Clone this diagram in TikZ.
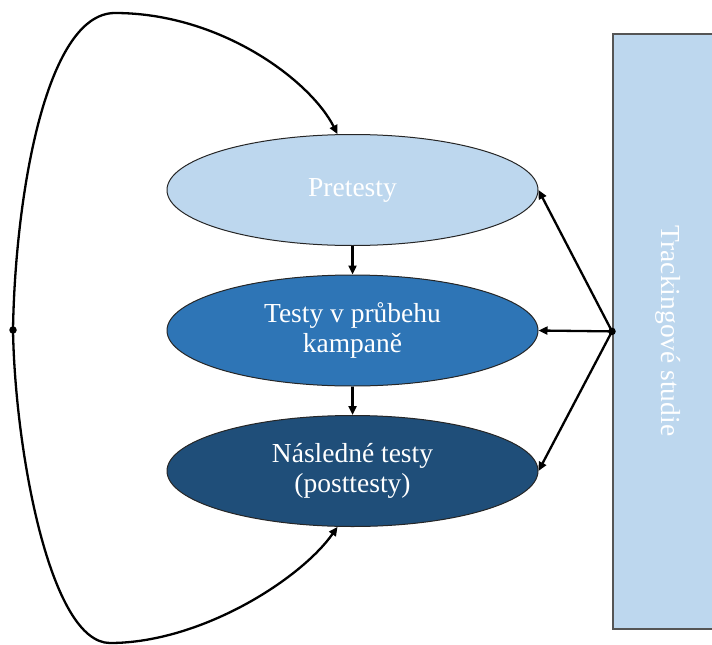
\documentclass[tikz,border=0pt]{standalone}
\usepackage{fontspec}
\setmainfont{Liberation Serif}
\usetikzlibrary{shapes.geometric,arrows.meta}
\definecolor{lightb}{HTML}{BDD7EE}
\definecolor{midb}{HTML}{2E75B6}
\definecolor{darkb}{HTML}{1F4E79}
\definecolor{edgegray}{HTML}{555555}
\tikzset{
  stage/.style={ellipse, draw=black!85, line width=1pt, minimum width=371pt, minimum height=111pt, inner sep=0pt, text=white, align=center, font=\fontsize{27.5}{30}\selectfont},
  conn/.style={line width=2.3pt, -{Triangle[length=9pt,width=8pt]}},
  dotmark/.style={circle, fill=black, inner sep=0pt, minimum size=7.5pt}
}
\begin{document}
\begin{tikzpicture}[x=1pt,y=-1pt]
\useasboundingbox (0,0) rectangle (712,645);
\begin{scope}
\clip (0,0) rectangle (712,645);
\node[draw=edgegray, line width=1.8pt, fill=lightb, minimum width=130pt, minimum height=595pt, anchor=north west, inner sep=0pt] (track) at (612,33) {};
\end{scope}
\node[text=white, rotate=-90, font=\fontsize{27.5}{30}\selectfont] (tracklbl) at (668,331) {Trackingové studie};
\node[stage, fill=lightb] (pre) at (352.5,190) {\raisebox{-3pt}{Pretesty}};
\node[stage, fill=midb] (mid) at (352.5,330.5) {Testy v průbehu\\kampaně};
\node[stage, fill=darkb] (post) at (352.5,471) {Následné testy\\(posttesty)};
\coordinate (tw) at (track.west);
\coordinate (lp) at (13,330);
\draw[conn] (pre.south) -- (mid.north);
\draw[conn] (mid.south) -- (post.north);
\draw[conn] (tw) -- (pre.east);
\draw[conn] (tw) -- (mid.east);
\draw[conn] (tw) -- (post.east);
\draw[conn] (lp) .. controls (15,200) and (45,13) .. (115,13) .. controls (220,13) and (310,80) .. (pre.105);
\draw[conn] (lp) .. controls (15,450) and (50,643) .. (110,643) .. controls (200,643) and (300,580) .. (post.255);
\node[dotmark] at (tw) {};
\node[dotmark] at (lp) {};
\end{tikzpicture}
\end{document}
